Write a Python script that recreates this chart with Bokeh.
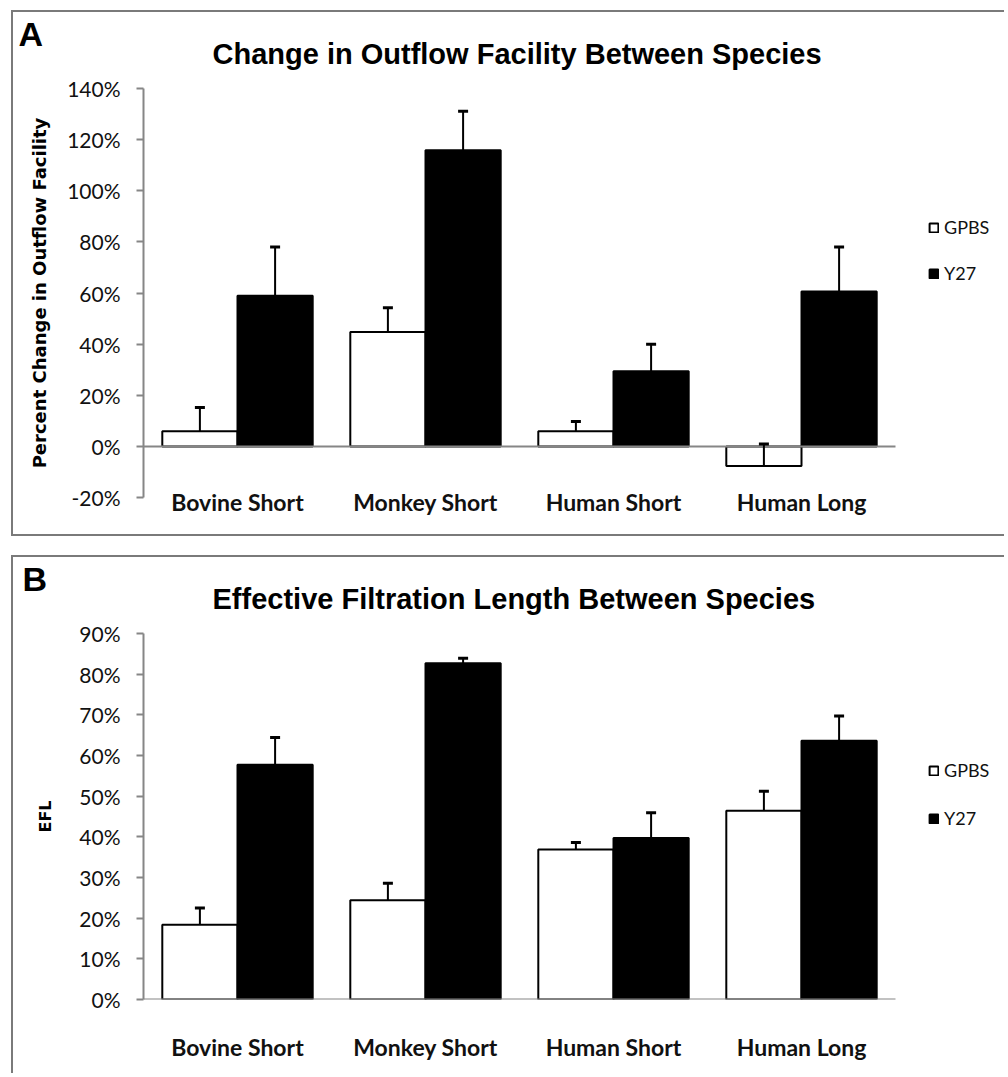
from bokeh.plotting import figure
from bokeh.models import (ColumnDataSource, Range1d, FixedTicker,
                          PrintfTickFormatter, Whisker, TeeHead, Title,
                          Legend, LegendItem)
from bokeh.transform import dodge
from bokeh.layouts import column
from bokeh.embed import file_html
from bokeh.resources import INLINE

# ---------------- data ----------------
categories = ["Bovine Short", "Monkey Short", "Human Short", "Human Long"]
series_names = ["GPBS", "Y27"]

# Panel A: percent change in outflow facility
a_gpbs = [5.9, 44.7, 5.9, -7.7]
a_gpbs_err = [15.2, 54.2, 9.7, 0.9]
a_y27 = [58.9, 115.8, 29.4, 60.6]
a_y27_err = [78.0, 131.1, 40.0, 78.0]
a_ticks = [-20, 0, 20, 40, 60, 80, 100, 120, 140]

# Panel B: effective filtration length
b_gpbs = [18.4, 24.4, 36.9, 46.4]
b_gpbs_err = [22.5, 28.6, 38.6, 51.2]
b_y27 = [57.7, 82.7, 39.7, 63.6]
b_y27_err = [64.4, 83.9, 45.9, 69.7]
b_ticks = [0, 10, 20, 30, 40, 50, 60, 70, 80, 90]

GRAY = "#868686"
BORDER = "2px solid #7a7a7a"
xpos = list(range(1, len(categories) + 1))
X_END = 0.5 + 863 / 188  # frame extends to the right edge (legend area)


def make_panel(height, min_bottom, yticks, letter, letter_offset, title,
               ylabel, ylabel_size, gv, ge, yv, ye, ylabel_standoff,
               legend_y, legend_spacing, cat_standoff, styles, margin):
    src = ColumnDataSource(dict(x=xpos, g=gv, ge=ge, y=yv, ye=ye))
    p = figure(x_range=Range1d(0.5, X_END),
               y_range=Range1d(yticks[0], yticks[-1]),
               width=993, height=height, output_backend="svg",
               toolbar_location=None, min_border_left=130,
               min_border_right=0, min_border_top=76,
               min_border_bottom=min_bottom, styles=styles, margin=margin)
    p.outline_line_color = None
    p.xgrid.grid_line_color = None
    p.ygrid.grid_line_color = None
    p.background_fill_color = "white"
    p.border_fill_color = "white"

    # panel letter (outermost title) and chart title
    p.title.text = letter
    p.title.align = "left"
    p.title.offset = letter_offset
    p.title.text_font = "Liberation Sans"
    p.title.text_font_style = "bold"
    p.title.text_font_size = "34px"
    p.title.text_color = "black"
    try:
        p.title.standoff = -73
    except Exception:
        p.title.standoff = 0
    p.add_layout(Title(text=title, align="left", offset=69,
                       text_font="Liberation Sans", text_font_style="bold",
                       text_font_size="29px", text_color="black",
                       standoff=38), "above")

    rg = p.vbar(x=dodge("x", -0.2), top="g", width=0.4, source=src,
                fill_color="white", line_color="black", line_width=2)
    ry = p.vbar(x=dodge("x", 0.2), top="y", width=0.4, source=src,
                fill_color="black", line_color="black", line_width=2)

    for xoff, lo, hi in [(-0.2, "g", "ge"), (0.2, "y", "ye")]:
        w = Whisker(source=src, base=dodge("x", xoff), lower=lo, upper=hi,
                    line_color="black", line_width=2,
                    upper_head=TeeHead(size=10, line_width=3,
                                       line_color="black"),
                    lower_head=None, level="overlay")
        p.add_layout(w)

    # zero line spanning the category area only
    p.segment(x0=[xpos[0] - 0.5], x1=[xpos[-1] + 0.5], y0=[0], y1=[0],
              line_color=GRAY, line_width=2)

    # y axis
    yax = p.yaxis[0]
    yax.ticker = FixedTicker(ticks=yticks)
    yax.bounds = (yticks[0], yticks[-1])
    yax.formatter = PrintfTickFormatter(format="%d%%")
    yax.axis_line_color = GRAY
    yax.axis_line_width = 2
    yax.major_tick_line_color = GRAY
    yax.major_tick_line_width = 2
    yax.major_tick_out = 7
    yax.major_tick_in = 0
    yax.minor_tick_line_color = None
    yax.major_label_text_font = "Lato"
    yax.major_label_text_font_size = "21px"
    yax.major_label_text_color = "#111111"
    yax.major_label_standoff = 16
    yax.axis_label = ylabel
    yax.axis_label_text_font = "DejaVu Sans"
    yax.axis_label_text_font_style = "bold"
    yax.axis_label_text_font_size = ylabel_size
    yax.axis_label_text_color = "black"
    yax.axis_label_standoff = ylabel_standoff

    # x axis (category labels)
    xax = p.xaxis[0]
    xax.ticker = FixedTicker(ticks=xpos)
    xax.major_label_overrides = dict(zip(xpos, categories))
    xax.axis_line_color = None
    xax.major_tick_line_color = None
    xax.minor_tick_line_color = None
    xax.major_label_text_font = "Lato"
    xax.major_label_text_font_style = "bold"
    xax.major_label_text_font_size = "23px"
    xax.major_label_text_color = "#111111"
    xax.major_label_standoff = cat_standoff

    legend = Legend(items=[LegendItem(label=series_names[0], renderers=[rg]),
                           LegendItem(label=series_names[1], renderers=[ry])],
                    location=(785, legend_y), orientation="vertical",
                    glyph_width=11, glyph_height=11, label_height=20,
                    label_standoff=5, spacing=legend_spacing, padding=0,
                    margin=0, border_line_color=None,
                    background_fill_alpha=0,
                    label_text_font="Lato", label_text_font_size="18px",
                    label_text_color="#111111")
    p.add_layout(legend)
    return p


pa = make_panel(526, 41, a_ticks, "A", -125,
                "Change in Outflow Facility Between Species",
                "Percent Change in Outflow Facility", "18px",
                a_gpbs, a_gpbs_err, a_y27, a_y27_err,
                ylabel_standoff=14, legend_y=213, legend_spacing=24,
                cat_standoff=-16,
                styles={"border-left": BORDER, "border-top": BORDER,
                        "border-bottom": BORDER},
                margin=(10, 0, 0, 11))

pb = make_panel(518, 76, b_ticks, "B", -121,
                "Effective Filtration Length Between Species", "EFL", "16px",
                b_gpbs, b_gpbs_err, b_y27, b_y27_err,
                ylabel_standoff=21, legend_y=170, legend_spacing=26,
                cat_standoff=27,
                styles={"border-left": BORDER, "border-top": BORDER},
                margin=(19, 0, 0, 11))

layout = column(pa, pb, spacing=0)
open("out.html", "w").write(file_html(layout, INLINE))
